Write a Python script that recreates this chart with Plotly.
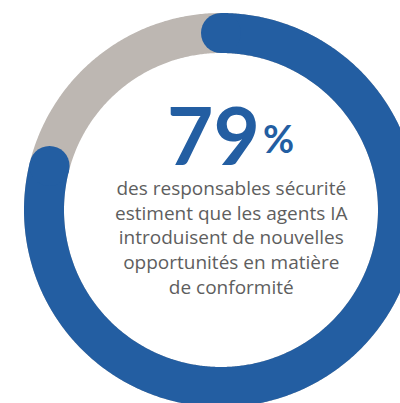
import numpy as np
import plotly.graph_objects as go

# ---- data ----
labels = ["Oui", "Autres"]
values = [79, 21]
headline = "79"
unit = "%"
body_lines = [
    "des responsables sécurité",
    "estiment que les agents IA",
    "introduisent de nouvelles",
    "opportunités en matière",
    "de conformité",
]

BLUE = "#235ea2"
GRAY = "#bdb7b2"
TEXT = "#5e5e5e"

R = 177
W = 40
share = values[0] / sum(values)

t_full = np.linspace(0, 360, 721)
ang_full = np.radians(90 - t_full)
t_arc = np.linspace(0, 360 * share, 600)
ang_arc = np.radians(90 - t_arc)

fig = go.Figure()
fig.add_trace(go.Scatter(x=R * np.cos(ang_full), y=R * np.sin(ang_full), mode="lines",
                         line=dict(color=GRAY, width=W, simplify=False), hoverinfo="skip", name=labels[1]))
fig.add_trace(go.Scatter(x=R * np.cos(ang_arc), y=R * np.sin(ang_arc), mode="lines",
                         line=dict(color=BLUE, width=W, simplify=False), hoverinfo="skip", name=labels[0]))
fig.add_trace(go.Scatter(x=[R * np.cos(ang_arc[0]), R * np.cos(ang_arc[-1])],
                         y=[R * np.sin(ang_arc[0]), R * np.sin(ang_arc[-1])],
                         mode="markers", marker=dict(color=BLUE, size=W, line=dict(width=0)),
                         hoverinfo="skip", cliponaxis=True))

fig.add_annotation(x=-8, y=76, text="<b>" + headline + "</b>", showarrow=False, height=70,
                   font=dict(family="Lato", size=80, color=BLUE), xanchor="center", yanchor="middle",
                   valign="middle")
fig.add_annotation(x=57, y=47, text="<b>" + unit + "</b>", showarrow=False,
                   font=dict(family="Lato", size=38, color=BLUE), xanchor="center", yanchor="bottom")
fig.add_annotation(x=10, y=-27, text="<br>".join(body_lines), showarrow=False,
                   font=dict(family="Open Sans", size=19, color=TEXT), xanchor="center",
                   yanchor="middle", align="center")

fig.update_layout(
    width=400, height=403, margin=dict(l=0, r=0, t=0, b=0),
    paper_bgcolor="white", plot_bgcolor="white", showlegend=False,
    xaxis=dict(range=[-221, 179], visible=False, fixedrange=True),
    yaxis=dict(range=[-193, 210], visible=False, fixedrange=True),
)
fig.write_html("out.html", config={"displayModeBar": False})
